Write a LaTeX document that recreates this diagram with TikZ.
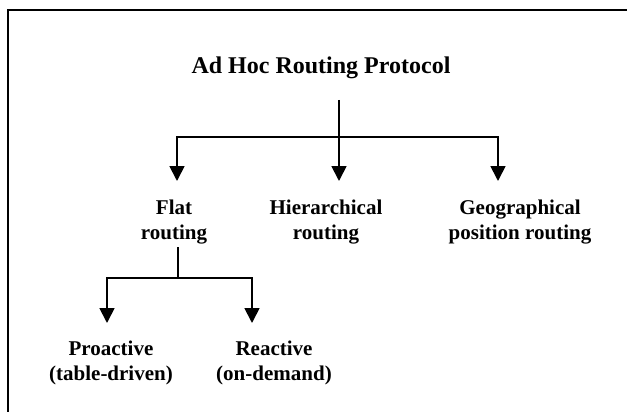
\documentclass[tikz,border=0pt]{standalone}
\usepackage{fontspec}
\setmainfont{Liberation Serif}
\usetikzlibrary{arrows.meta}
\begin{document}
\begin{tikzpicture}[x=1pt, y=-1pt, line width=1.8pt,
    every node/.style={font=\bfseries\fontsize{21}{25}\selectfont, align=center, inner sep=0pt},
    branch/.style={-{Triangle[width=15pt,length=15pt]}}]
    \useasboundingbox (0,0) rectangle (627,412);
    \draw[line width=2pt] (8,412) -- (8,10) -- (627,10);
    % top level
    \node[font=\bfseries\fontsize{24}{28}\selectfont] (adhoc) at (321,68) {Ad Hoc Routing Protocol};
    \coordinate (stem) at (339,100);
    \coordinate (fork) at (339,137);
    \coordinate (toflat) at (177,181);
    \coordinate (tohier) at (339,181);
    \coordinate (togeo) at (498,181);
    \node (flat) at (174,222) {Flat\\routing};
    \node (hier) at (326,222) {Hierarchical\\routing};
    \node (geo) at (520,222) {Geographical\\position routing};
    \draw (stem) -- (fork);
    \draw[branch] (fork) -| (toflat);
    \draw[branch] (fork) -- (tohier);
    \draw[branch] (fork) -| (togeo);
    % flat routing
    \coordinate (flatstem) at (178,247);
    \coordinate (flatfork) at (178,278);
    \coordinate (topro) at (107,323);
    \coordinate (torea) at (252,323);
    \node (pro) at (111,363) {Proactive\\(table-driven)};
    \node (rea) at (274,363) {Reactive\\(on-demand)};
    \draw (flatstem) -- (flatfork);
    \draw[branch] (flatfork) -| (topro);
    \draw[branch] (flatfork) -| (torea);
\end{tikzpicture}
\end{document}
